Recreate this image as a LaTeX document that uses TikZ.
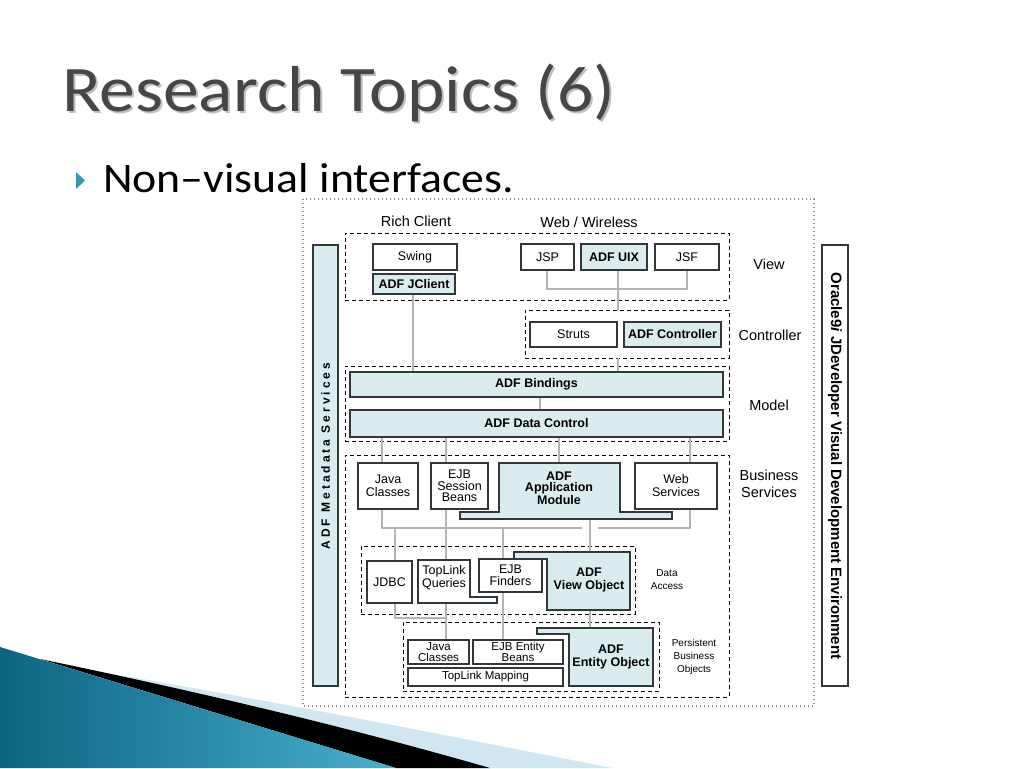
\documentclass[tikz,border=0pt]{standalone}
\usepackage{fontspec}
\setmainfont{Carlito}
\newfontfamily\arial{Liberation Sans}
\newfontfamily\arialls[LetterSpace=25]{Liberation Sans}
\usetikzlibrary{calc}
\definecolor{cyanfill}{RGB}{218,236,238}
\definecolor{conncol}{RGB}{180,180,180}
\definecolor{boxline}{RGB}{50,55,60}
\definecolor{titlecol}{RGB}{70,70,70}
\definecolor{tealdark}{RGB}{12,100,130}
\definecolor{teallight}{RGB}{72,176,206}
\definecolor{lightblue}{RGB}{208,230,240}
\tikzset{
  box/.style={draw=boxline, line width=1.1pt, fill=white, inner sep=1pt, align=center,
    font=\arial\fontsize{12.5}{13}\selectfont},
  cbox/.style={box, fill=cyanfill, font=\arial\bfseries\fontsize{12.5}{13}\selectfont},
  sbox/.style={box, font=\arial\fontsize{11.5}{11}\selectfont},
  cpoly/.style={draw=boxline, line width=1.1pt, fill=cyanfill},
  wpoly/.style={draw=boxline, line width=1.1pt, fill=white},
  grp/.style={draw=black, line width=0.9pt, dash pattern=on 4pt off 3pt, inner sep=0pt},
  conn/.style={draw=conncol, line width=2.2pt},
  lbl/.style={font=\arial\fontsize{14.5}{17}\selectfont, align=center, inner sep=0pt},
  slbl/.style={font=\arial\fontsize{10}{13}\selectfont, align=center, inner sep=0pt},
  tlbl/.style={font=\arial\bfseries\fontsize{12.5}{13}\selectfont, align=center, inner sep=0pt}
}
\begin{document}
\begin{tikzpicture}[x=1pt,y=-1pt]
\useasboundingbox (0,0) rectangle (1024,768);
\fill[white] (0,0) rectangle (1024,768);

% bottom-left decoration
\fill[lightblue] (95,671) .. controls (250,697) and (420,730) .. (612,768) -- (480,768) -- cycle;
\fill[black] (40,659) .. controls (180,688) and (330,722) .. (490,768) -- (396,768) -- cycle;
\shade[left color=tealdark, right color=teallight] (0,647) -- (396,768) -- (0,768) -- cycle;

% title
\node[anchor=base west, inner sep=0pt, text=black!25] (titleshadow) at (64,113)
  {\scalebox{1.10}[1]{\fontsize{65}{70}\selectfont Research Topics (6)}};
\node[anchor=base west, inner sep=0pt, text=titlecol] (title) at (62,111)
  {\scalebox{1.10}[1]{\fontsize{65}{70}\selectfont Research Topics (6)}};
% bullet
\fill[teallight!85!black] (76,172) -- (85,180.5) -- (76,189) -- cycle;
\node[anchor=base west, inner sep=0pt] (bullet) at (103,192)
  {\scalebox{1.09}[1]{\fontsize{42}{46}\selectfont Non–visual interfaces.}};

% outer dotted frame
\draw[draw=black!45, line width=1.4pt, dash pattern=on 1.4pt off 2.6pt] (303,199) rectangle (814,706);

% side bars
\node[draw=boxline, line width=1.1pt, fill=cyanfill, minimum width=25pt, minimum height=441pt, inner sep=0pt] (meta) at (325.5,465.5) {};
\node[rotate=90, font=\arialls\bfseries\fontsize{12}{12}\selectfont] (metatext) at (325.5,456) {ADF Metadata Services};
\node[draw=boxline, line width=1.1pt, fill=white, minimum width=26pt, minimum height=441pt, inner sep=0pt] (ide) at (835,465.5) {};
\node[rotate=-90, font=\arial\bfseries\fontsize{15}{15}\selectfont] (idetext) at (835,466) {Oracle9\textit{i} JDeveloper Visual Development Environment};

% group boxes
\node[grp, minimum width=384pt, minimum height=67pt] (viewgrp) at (537,266.5) {};
\node[grp, minimum width=204pt, minimum height=48pt] (ctrlgrp) at (627,334) {};
\node[grp, minimum width=384pt, minimum height=75pt] (modelgrp) at (537,403.5) {};
\node[grp, minimum width=384pt, minimum height=242pt] (bsgrp) at (537,576) {};
\node[grp, minimum width=274pt, minimum height=68pt] (dagrp) at (498,580) {};
\node[grp, minimum width=256pt, minimum height=69pt] (pbogrp) at (531,656.5) {};

% labels
\node[lbl] (richlbl) at (416,221) {Rich Client};
\node[lbl] (weblbl) at (589,222) {Web / Wireless};
\node[lbl] (viewlbl) at (769,264) {View};
\node[lbl] (ctrllbl) at (770,335) {Controller};
\node[lbl] (modellbl) at (769,405) {Model};
\node[lbl] (bslbl) at (769,484) {Business\\Services};
\node[slbl] (dalbl) at (667,580) {Data\\Access};
\node[slbl] (pbolbl) at (694,657) {Persistent\\Business\\Objects};

% coordinates for connectors
\coordinate (xjc) at (413,0);
\coordinate (xui) at (618,0);
\coordinate (xbd) at (540,0);
\coordinate (x382) at (382,0);
\coordinate (x446) at (446,0);
\coordinate (x559) at (559,0);
\coordinate (x690) at (690,0);
\coordinate (x395) at (395,0);
\coordinate (x503) at (503,0);
\coordinate (x590) at (590,0);
\coordinate (hb) at (0,528);
\coordinate (hL) at (582,528);
\coordinate (hR) at (598,528);
\coordinate (jb) at (0,618);
\coordinate (appB) at (590,519);
\coordinate (tlqT) at (446,560);
\coordinate (tlqB) at (446,603);
\coordinate (voT) at (590,552);
\coordinate (voB) at (590,610);
\coordinate (eoT) at (590,628);

% connectors (drawn first, under boxes)
\draw[conn] (xjc |- 0,294) -- (xjc |- 0,372);
\draw[conn] (547,270) -- (547,289) -| (687,270);
\draw[conn] (xui |- 0,270) -- (xui |- ctrlgrp.north);
\draw[conn] (xui |- ctrlgrp.south) -- (xui |- 0,372);
\draw[conn] (xbd |- 0,397) -- (xbd |- 0,410);
\draw[conn] (x382 |- 0,437) -- (x382 |- 0,463);
\draw[conn] (x446 |- 0,437) -- (x446 |- 0,463);
\draw[conn] (x559 |- 0,437) -- (x559 |- 0,463);
\draw[conn] (x690 |- 0,437) -- (x690 |- 0,463);
\draw[conn] (x382 |- 0,509) |- (hL);
\draw[conn] (hR) -| (x690 |- 0,509);
\draw[conn] (x446 |- 0,509) -- (tlqT);
\draw[conn] (x395 |- hb) -- (x395 |- 0,561);
\draw[conn] (x503 |- hb) -- (x503 |- 0,559);
\draw[conn] (appB) -- (voT);
\draw[conn] (x395 |- 0,603) |- (x446 |- jb);
\draw[conn] (tlqB) -- (x446 |- 0,640);
\draw[conn] (x503 |- 0,592) -- (x503 |- 0,640);
\draw[conn] (voB) -- (eoT);

% view layer
\node[box, minimum width=84pt, minimum height=26pt] (swing) at (415,257) {Swing};
\node[cbox, minimum width=82pt, minimum height=20pt] (jclient) at (414,284) {ADF JClient};
\node[box, minimum width=53pt, minimum height=26pt] (jsp) at (547.5,257) {JSP};
\node[cbox, minimum width=66pt, minimum height=26pt] (uix) at (614,257) {ADF UIX};
\node[box, minimum width=64pt, minimum height=26pt] (jsf) at (687,257) {JSF};

% controller layer
\node[box, minimum width=87pt, minimum height=25pt] (struts) at (573.5,334.5) {Struts};
\node[cbox, minimum width=97pt, minimum height=25pt] (adfctrl) at (672.5,334.5) {ADF Controller};

% model layer
\node[cbox, minimum width=373pt, minimum height=25pt] (bindings) at (536.5,384.5) {ADF Bindings};
\node[cbox, minimum width=373pt, minimum height=27pt] (datactrl) at (536.5,423.5) {ADF Data Control};

% business services
\node[box, minimum width=60pt, minimum height=46pt] (javacls) at (388,486) {Java\\Classes};
\node[box, minimum width=57pt, minimum height=46pt, font=\arial\fontsize{12.5}{11.5}\selectfont] (ejbsess) at (459.5,486) {EJB\\Session\\Beans};
\draw[cpoly] (499,463) -- (620,463) -- (620,512) -- (672,512) -- (672,519) -- (460,519) -- (460,512) -- (499,512) -- cycle;
\node[tlbl, font=\arial\bfseries\fontsize{12.5}{11.5}\selectfont] (appmod) at (559,488) {ADF\\Application\\Module};
\node[box, minimum width=82pt, minimum height=46pt] (websvc) at (676,486) {Web\\Services};

% data access
\node[box, minimum width=45pt, minimum height=42pt] (jdbc) at (389.5,582) {JDBC};
\draw[wpoly] (418,560) -- (470,560) -- (470,597) -- (497,597) -- (497,603) -- (418,603) -- cycle;
\node[font=\arial\fontsize{12.5}{13}\selectfont, align=center, inner sep=0pt] (tlq) at (444,578) {TopLink\\Queries};
\node[box, minimum width=63pt, minimum height=33pt, font=\arial\fontsize{12.5}{11.5}\selectfont] (finders) at (510.5,575.5) {EJB\\Finders};
\draw[cpoly] (514,552) -- (630,552) -- (630,610) -- (547,610) -- (547,559) -- (514,559) -- cycle;
\node[tlbl] (viewobj) at (589,580) {ADF\\View Object};

% persistent business objects
\node[sbox, minimum width=61pt, minimum height=24pt, font=\arial\fontsize{11.5}{10.5}\selectfont] (javacls2) at (438.5,652) {Java\\Classes};
\node[sbox, minimum width=90pt, minimum height=24pt, font=\arial\fontsize{11.5}{10.5}\selectfont] (ejbent) at (518,652) {EJB Entity\\Beans};
\node[sbox, minimum width=155pt, minimum height=18pt] (tlmap) at (485.5,677) {TopLink Mapping};
\draw[cpoly] (537,628) -- (653,628) -- (653,686) -- (569,686) -- (569,634) -- (537,634) -- cycle;
\node[tlbl] (entobj) at (611,657) {ADF\\Entity Object};
\end{tikzpicture}
\end{document}
